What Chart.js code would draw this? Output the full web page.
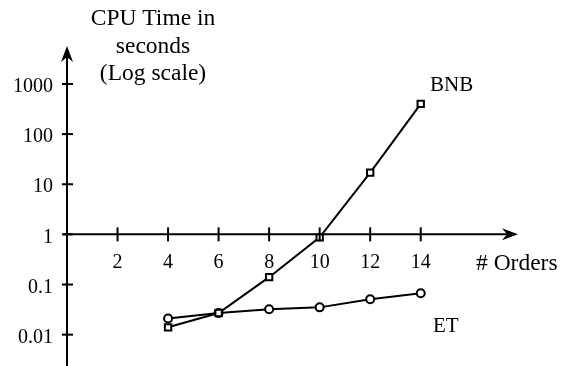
<!DOCTYPE html>
<html>
<head>
<meta charset="utf-8">
<script src="https://cdn.jsdelivr.net/npm/chart.js@4.4.0/dist/chart.umd.min.js"></script>
<style>
  body { margin: 0; background: #fff; }
  #wrap { width: 565px; height: 366px; position: relative; }
</style>
</head>
<body>
<div id="wrap"><canvas id="cpuChart"></canvas></div>
<script>
// number of orders on the x axis
var orders = [4, 6, 8, 10, 12, 14];
// CPU time in seconds
var bnbTime = [0.014, 0.027, 0.14, 0.87, 17, 400];
var etTime = [0.021, 0.027, 0.032, 0.035, 0.051, 0.067];

var xTicks = [2, 4, 6, 8, 10, 12, 14];
var yTicks = [0.01, 0.1, 1, 10, 100, 1000];
var yTickLabels = ['0.01', '0.1', '1', '10', '100', '1000'];
var titleLines = ['CPU Time in', 'seconds', '(Log scale)'];

function toPoints(xs, ys) {
	var pts = [];
	for (var i in xs) {
		pts.push({x: xs[i], y: ys[i]});
	}
	return pts;
}

var serif = '"Liberation Serif", "Times New Roman", serif';

function arrowHead(ctx, x, y, dir) {
	// dir: 'up' or 'right'
	ctx.save();
	ctx.translate(x, y);
	if (dir == 'up') ctx.rotate(-Math.PI / 2);
	ctx.beginPath();
	ctx.moveTo(0, 0);
	ctx.lineTo(-16, -6);
	ctx.lineTo(-11, 0);
	ctx.lineTo(-16, 6);
	ctx.closePath();
	ctx.fill();
	ctx.restore();
}

var axesPlugin = {
	id: 'handAxes',
	afterDraw: function(chart) {
		var ctx = chart.ctx;
		var xs = chart.scales.x;
		var ys = chart.scales.y;
		var area = chart.chartArea;
		var x0 = xs.getPixelForValue(0);
		var y1 = ys.getPixelForValue(1);

		ctx.save();
		ctx.strokeStyle = '#000';
		ctx.fillStyle = '#000';
		ctx.lineWidth = 2;

		// y axis
		ctx.beginPath();
		ctx.moveTo(x0, area.bottom);
		ctx.lineTo(x0, area.top + 4);
		ctx.stroke();
		arrowHead(ctx, x0, area.top, 'up');

		// x axis
		ctx.beginPath();
		ctx.moveTo(x0 - 4, y1);
		ctx.lineTo(area.right - 4, y1);
		ctx.stroke();
		arrowHead(ctx, area.right, y1, 'right');

		// y ticks + labels
		ctx.font = '20px ' + serif;
		ctx.textAlign = 'right';
		ctx.textBaseline = 'middle';
		for (var i in yTicks) {
			var py = ys.getPixelForValue(yTicks[i]);
			ctx.beginPath();
			ctx.moveTo(x0 - 5, py);
			ctx.lineTo(x0 + 6, py);
			ctx.stroke();
			ctx.fillText(yTickLabels[i], x0 - 14, py + 3);
		}

		// x ticks + labels
		ctx.textAlign = 'center';
		for (var j in xTicks) {
			var px = xs.getPixelForValue(xTicks[j]);
			ctx.beginPath();
			ctx.moveTo(px, y1 - 7);
			ctx.lineTo(px, y1 + 7);
			ctx.stroke();
			ctx.fillText(String(xTicks[j]), px, y1 + 28);
		}

		// series names
		ctx.font = '21px ' + serif;
		ctx.textAlign = 'left';
		ctx.fillText('BNB', 430, 85);
		ctx.fillText('ET', 433, 326);

		// axis titles
		ctx.font = '23.5px ' + serif;
		ctx.textBaseline = 'alphabetic';
		ctx.fillText('# Orders', 476, 270);
		ctx.textAlign = 'center';
		for (var k in titleLines) {
			ctx.fillText(titleLines[k], 153, 25 + k * 27.5);
		}
		ctx.restore();
	}
};

var chartdata = {
	datasets: [
		{
			label: 'BNB',
			data: toPoints(orders, bnbTime),
			borderColor: '#000',
			borderWidth: 2,
			backgroundColor: '#fff',
			pointStyle: 'rect',
			pointRadius: 4.5,
			pointBorderWidth: 2,
			pointBackgroundColor: '#fff',
			pointBorderColor: '#000',
			fill: false,
			tension: 0
		},
		{
			label: 'ET',
			data: toPoints(orders, etTime),
			borderColor: '#000',
			borderWidth: 2,
			backgroundColor: '#fff',
			pointStyle: 'circle',
			pointRadius: 4,
			pointBorderWidth: 2,
			pointBackgroundColor: '#fff',
			pointBorderColor: '#000',
			fill: false,
			tension: 0
		}
	]
};

var ctx = document.getElementById('cpuChart');

var lineGraph = new Chart(ctx, {
	type: 'line',
	data: chartdata,
	options: {
		responsive: true,
		maintainAspectRatio: false,
		animation: false,
		layout: {autoPadding: false, padding: {left: 67, right: 47, top: 46, bottom: 0}},
		plugins: {
			legend: {display: false},
			tooltip: {enabled: false}
		},
		scales: {
			x: {type: 'linear', min: 0, max: 17.85, display: false},
			y: {type: 'logarithmic', min: 0.00237, max: 5715, display: false}
		}
	},
	plugins: [axesPlugin]
});
</script>
</body>
</html>
